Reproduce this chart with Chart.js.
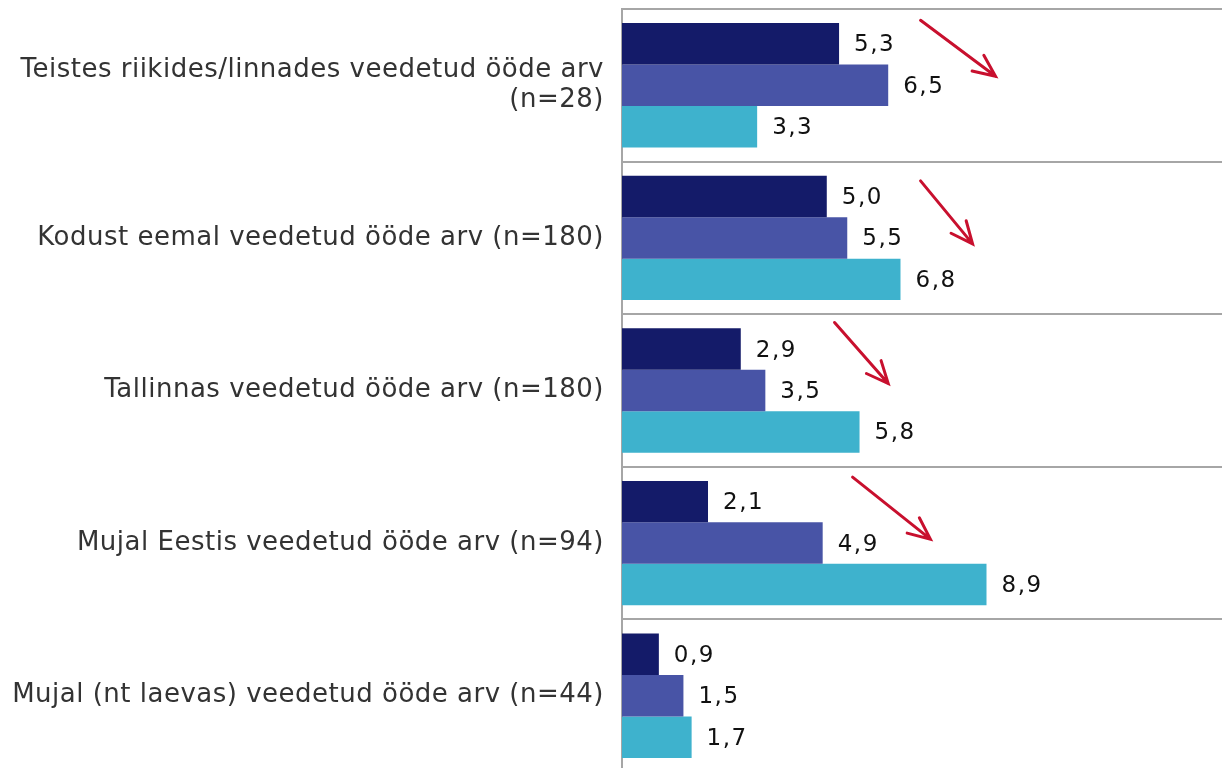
<!DOCTYPE html>
<html>
<head>
<meta charset="utf-8">
<script src="https://cdn.jsdelivr.net/npm/chart.js@4/dist/chart.umd.min.js"></script>
<style>
html, body { margin:0; padding:0; background:#fff; overflow:hidden; }
#wrap { position:relative; width:1222px; height:772px; }
</style>
</head>
<body>
<div id="wrap"><canvas id="chart"></canvas></div>
<script>

const categories = [
    ["Teistes riikides/linnades veedetud ööde arv", "(n=28)"],
    "Kodust eemal veedetud ööde arv (n=180)",
    "Tallinnas veedetud ööde arv (n=180)",
    "Mujal Eestis veedetud ööde arv (n=94)",
    "Mujal (nt laevas) veedetud ööde arv (n=44)"
]

const series1 = [5.3, 5.0, 2.9, 2.1, 0.9]
const series2 = [6.5, 5.5, 3.5, 4.9, 1.5]
const series3 = [3.3, 6.8, 5.8, 8.9, 1.7]

const colors = ["#141b69", "#4854a6", "#3eb2cd"]

// trend arrows: category index, start/end in value units, y offset from category centre
const arrows = [
    {cat:0, x1:7.29, y1:-65, x2:9.12, y2:-9},
    {cat:1, x1:7.29, y1:-57, x2:8.56, y2:6},
    {cat:2, x1:5.19, y1:-68, x2:6.50, y2:-7},
    {cat:3, x1:5.63, y1:-66, x2:7.53, y2:-4}
]

const spacingPlugin = {
    id:"spacing",
    beforeDraw(chart){
        chart.ctx.letterSpacing = "0.5px"
    }
}

const valueLabels = {
    id:"valueLabels",
    afterDatasetsDraw(chart){
        const ctx = chart.ctx
        ctx.save()
        ctx.letterSpacing = "1.5px"
        ctx.font = "23px 'DejaVu Sans'"
        ctx.fillStyle = "#111"
        ctx.textAlign = "left"
        ctx.textBaseline = "middle"
        chart.data.datasets.forEach((ds, i) => {
            chart.getDatasetMeta(i).data.forEach((bar, j) => {
                const txt = ds.data[j].toFixed(1).replace(".", ",")
                ctx.fillText(txt, bar.x + 15, bar.y + 1.5)
            })
        })
        ctx.restore()
    }
}

const arrowPlugin = {
    id:"arrows",
    afterDraw(chart){
        const ctx = chart.ctx
        const xs = chart.scales.x
        const ys = chart.scales.y
        ctx.save()
        ctx.strokeStyle = "#c8102e"
        ctx.lineWidth = 3
        ctx.lineCap = "round"
        arrows.forEach(a => {
            const cy = ys.getPixelForValue(a.cat)
            const x1 = xs.getPixelForValue(a.x1)
            const x2 = xs.getPixelForValue(a.x2)
            const y1 = cy + a.y1
            const y2 = cy + a.y2
            const ang = Math.atan2(y2 - y1, x2 - x1)
            const h = 24
            ctx.beginPath()
            ctx.moveTo(x1, y1)
            ctx.lineTo(x2, y2)
            ctx.moveTo(x2 - h * Math.cos(ang - 0.42), y2 - h * Math.sin(ang - 0.42))
            ctx.lineTo(x2, y2)
            ctx.lineTo(x2 - h * Math.cos(ang + 0.42), y2 - h * Math.sin(ang + 0.42))
            ctx.stroke()
        })
        ctx.restore()
    }
}

new Chart(document.getElementById("chart"), {
    type:"bar",
    data:{
        labels:categories,
        datasets:[
            {data:series1, backgroundColor:colors[0]},
            {data:series2, backgroundColor:colors[1]},
            {data:series3, backgroundColor:colors[2]}
        ]
    },
    options:{
        indexAxis:"y",
        responsive:true,
        maintainAspectRatio:false,
        animation:false,
        layout:{padding:{top:9, right:0, bottom:0, left:0}},
        datasets:{
            bar:{categoryPercentage:0.815, barPercentage:1.0}
        },
        plugins:{
            legend:{display:false},
            tooltip:{enabled:false}
        },
        scales:{
            x:{
                display:false,
                min:0,
                max:14.65
            },
            y:{
                afterFit(scale){
                    scale.width = 622
                    scale.paddingTop = 0
                    scale.paddingBottom = 0
                },
                grid:{color:"#a6a6a6", lineWidth:2, drawTicks:false, offset:true},
                border:{color:"#a6a6a6", width:2},
                ticks:{
                    padding:18,
                    color:"#333",
                    font:{family:"'DejaVu Sans'", size:26, lineHeight:1.15}
                }
            }
        }
    },
    plugins:[spacingPlugin, valueLabels, arrowPlugin]
})

</script>
</body>
</html>
